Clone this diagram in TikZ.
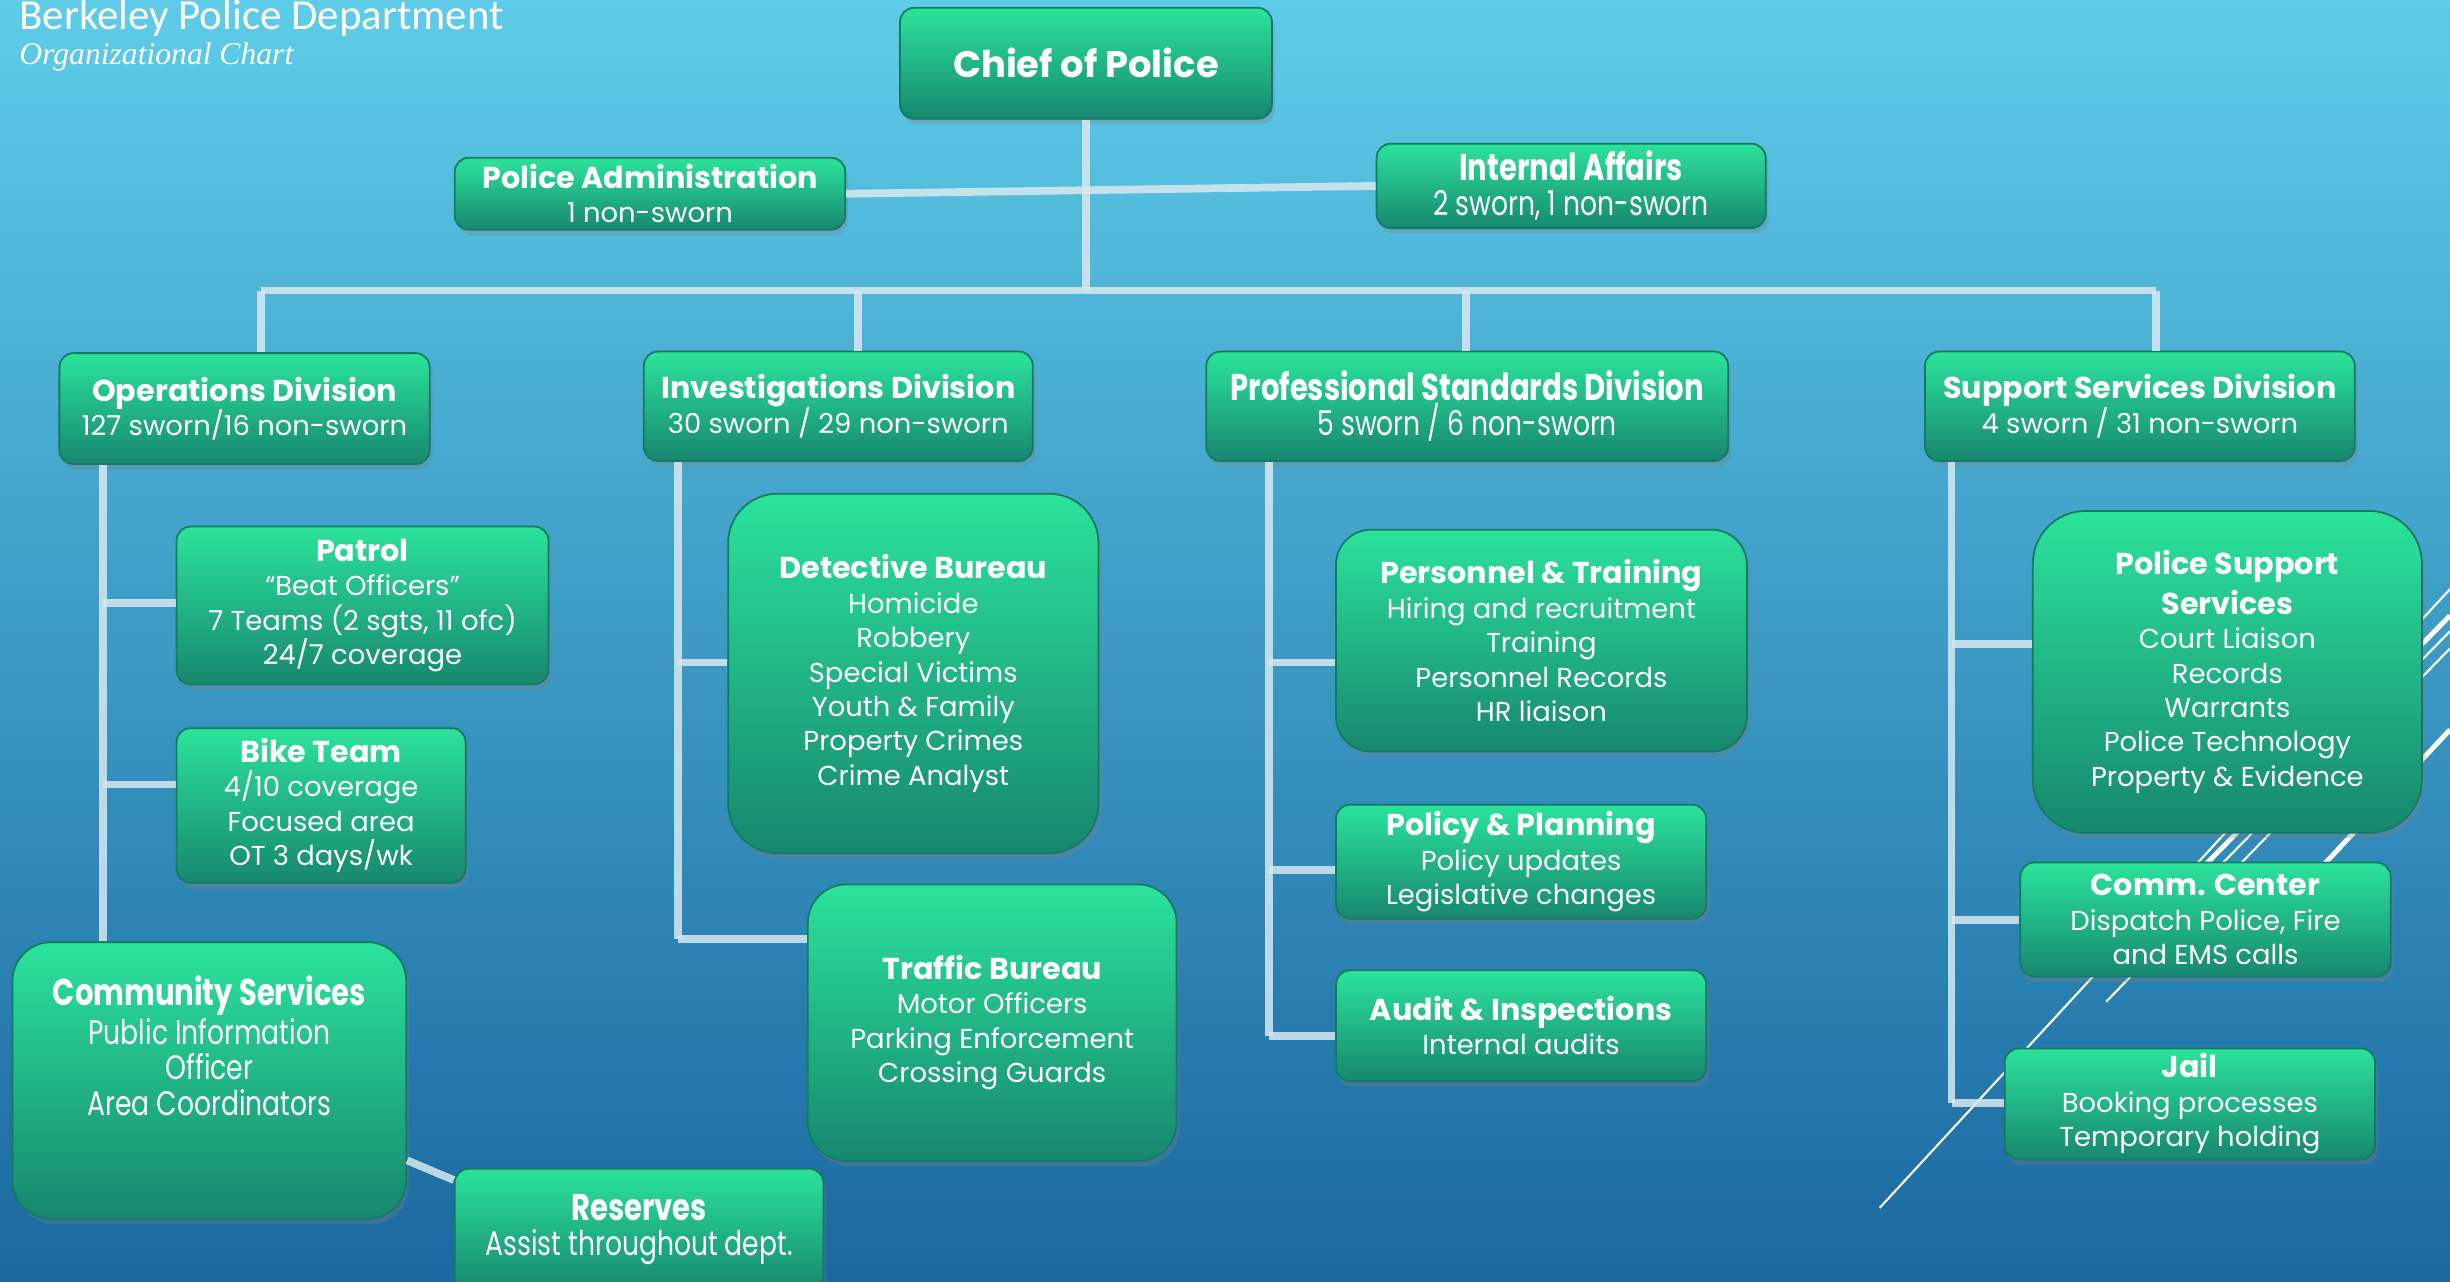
\documentclass[tikz,border=0pt]{standalone}
\usepackage{fontspec}
\setmainfont{Poppins}
\newfontfamily\narrowfont[FakeStretch=0.78]{Poppins}
\newfontfamily\headfont{Carlito}
\newfontfamily\subheadfont{Liberation Serif}
\usetikzlibrary{shadows}

\definecolor{bgtop}{HTML}{5ECCE9}
\definecolor{bgbot}{HTML}{1A68A0}
\definecolor{boxtop}{HTML}{2BE39B}
\definecolor{boxbot}{HTML}{17876F}
\definecolor{boxline}{HTML}{157A60}
\definecolor{wirecol}{HTML}{D8E8EF}

\newcommand{\hd}[1]{{\fontsize{8.6}{10}\selectfont\bfseries #1}}
\newcommand{\nhd}[1]{{\fontsize{10.6}{11}\selectfont\bfseries #1}}

\tikzset{
  orgbox/.style={rectangle, rounded corners=4pt, draw=boxline, line width=0.5pt,
    top color=boxtop, bottom color=boxbot, text=white, align=center, inner sep=1pt,
    font=\fontsize{7.8}{9.8}\selectfont,
    drop shadow={opacity=0.3, shadow xshift=0.8pt, shadow yshift=-1.6pt}},
  narrowbox/.style={orgbox, font=\narrowfont\fontsize{9.7}{10}\selectfont},
  boxsize/.style 2 args={minimum width=#1*0.015625cm, minimum height=#2*0.015625cm},
  wire/.style={draw=wirecol, line width=2.2pt, opacity=0.85},
  slice/.style={draw=white, line width=0.6pt},
}

\begin{document}
\begin{tikzpicture}[x=0.015625cm, y=-0.015625cm]
\useasboundingbox (0,0) rectangle (1568,820);
\clip (0,0) rectangle (1568,820);
\shade[top color=bgtop, bottom color=bgbot] (0,0) rectangle (1568,820);

% decoration lines at right
\draw[slice] (1203,773) -- (1568,377);
\draw[slice] (1348,641) -- (1568,415);
\draw[slice, line width=1.4pt] (1405,560) -- (1568,394);
\draw[slice] (1415,560) -- (1568,404);
\draw[slice, line width=1.4pt] (1481,560) -- (1568,467);

\node[anchor=base west, inner sep=0pt, text=white, font=\headfont\fontsize{12.2}{13}\selectfont] (title) at (12,19) {Berkeley Police Department};
\node[anchor=base west, inner sep=0pt, text=white, font=\subheadfont\itshape\fontsize{9}{10}\selectfont] (subtitle) at (12,41) {Organizational Chart};

% top level
\node[orgbox, boxsize={238}{71}] (chief) at (695,40.5) {\fontsize{10.5}{12}\selectfont\bfseries Chief of Police};
\node[orgbox, boxsize={250}{46}] (admin) at (416,124) {\hd{Police Administration}\\1 non-sworn};
\node[narrowbox, boxsize={249}{54}] (ia) at (1005.5,119) {\nhd{Internal Affairs}\\2 sworn, 1 non-sworn};

% divisions
\node[orgbox, boxsize={237}{71}] (ops) at (156.5,261.5) {\hd{Operations Division}\\127 sworn/16 non-sworn};
\node[orgbox, boxsize={249}{70}] (inv) at (536.5,260) {\hd{Investigations Division}\\30 sworn / 29 non-sworn};
\node[narrowbox, boxsize={334}{70}] (pro) at (939,260) {\nhd{Professional Standards Division}\\5 sworn / 6 non-sworn};
\node[orgbox, boxsize={275}{70}] (sup) at (1369.5,260) {\hd{Support Services Division}\\4 sworn / 31 non-sworn};

% operations
\node[orgbox, boxsize={238}{101}] (patrol) at (232,387.5) {\hd{Patrol}\\``Beat Officers''\\7 Teams (2 sgts, 11 ofc)\\24/7 coverage};
\node[orgbox, boxsize={185}{99}] (bike) at (205.5,515.5) {\hd{Bike Team}\\4/10 coverage\\Focused area\\OT 3 days/wk};
\node[narrowbox, rounded corners=11pt, boxsize={252}{177}] (comm) at (134,691.5) {\nhd{Community Services}\\Public Information\\Officer\\Area Coordinators\\[10pt]~};
\node[narrowbox, boxsize={236}{78}] (res) at (409,787) {\nhd{Reserves}\\Assist throughout dept.};

% investigations
\node[orgbox, rounded corners=14pt, boxsize={237}{230}] (det) at (584.5,431) {\hd{Detective Bureau}\\Homicide\\Robbery\\Special Victims\\Youth \& Family\\Property Crimes\\Crime Analyst};
\node[orgbox, rounded corners=11pt, boxsize={236}{177}] (traf) at (635,654.5) {\hd{Traffic Bureau}\\Motor Officers\\Parking Enforcement\\Crossing Guards};

% professional standards
\node[orgbox, rounded corners=10pt, boxsize={263}{142}] (pers) at (986.5,410) {\hd{Personnel \& Training}\\Hiring and recruitment\\Training\\Personnel Records\\HR liaison};
\node[orgbox, boxsize={237}{73}] (pol) at (973.5,551.5) {\hd{Policy \& Planning}\\Policy updates\\Legislative changes};
\node[orgbox, boxsize={237}{71}] (aud) at (973.5,656.5) {\hd{Audit \& Inspections}\\Internal audits};

% support services
\node[orgbox, rounded corners=15pt, boxsize={249}{206}] (pss) at (1425.5,430) {\hd{Police Support}\\[1.5pt]\hd{Services}\\Court Liaison\\Records\\Warrants\\Police Technology\\Property \& Evidence};
\node[orgbox, boxsize={237}{73}] (cc) at (1411.5,588.5) {\hd{Comm. Center}\\Dispatch Police, Fire\\and EMS calls};
\node[orgbox, boxsize={237}{71}] (jail) at (1401.5,706.5) {\hd{Jail}\\Booking processes\\Temporary holding};

% connectors
\coordinate (busL) at (167,186);
\coordinate (busR) at (1380,186);
\coordinate (b2) at (549,186);
\coordinate (b3) at (938,186);
\draw[wire] (admin.east) -- (ia.west);
\draw[wire] (chief.south) -- (chief.south |- busL);
\draw[wire] (busL) -- (busR);
\draw[wire] (busL) -- (busL |- ops.north);
\draw[wire] (b2) -- (b2 |- inv.north);
\draw[wire] (b3) -- (b3 |- pro.north);
\draw[wire] (busR) -- (busR |- sup.north);

\coordinate (o1) at (66,386);
\coordinate (o2) at (66,502);
\draw[wire] (ops.south -| o1) -- (comm.north -| o1);
\draw[wire] (o1) -- (o1 -| patrol.west);
\draw[wire] (o2) -- (o2 -| bike.west);
\draw[wire] (comm.-22) -- (res.165);

\coordinate (i1) at (434,424);
\coordinate (i2) at (434,601);
\draw[wire] (inv.south -| i1) -- (i2);
\draw[wire] (i1) -- (i1 -| det.west);
\draw[wire] (i2) -- (i2 -| traf.west);

\coordinate (p1) at (812,424);
\coordinate (p2) at (812,557);
\coordinate (p3) at (812,663);
\draw[wire] (pro.south -| p1) -- (p3);
\draw[wire] (p1) -- (p1 -| pers.west);
\draw[wire] (p2) -- (p2 -| pol.west);
\draw[wire] (p3) -- (p3 -| aud.west);

\coordinate (s1) at (1249,412);
\coordinate (s2) at (1249,589);
\coordinate (s3) at (1249,706);
\draw[wire] (sup.south -| s1) -- (s3);
\draw[wire] (s1) -- (s1 -| pss.west);
\draw[wire] (s2) -- (s2 -| cc.west);
\draw[wire] (s3) -- (s3 -| jail.west);

\end{tikzpicture}
\end{document}
